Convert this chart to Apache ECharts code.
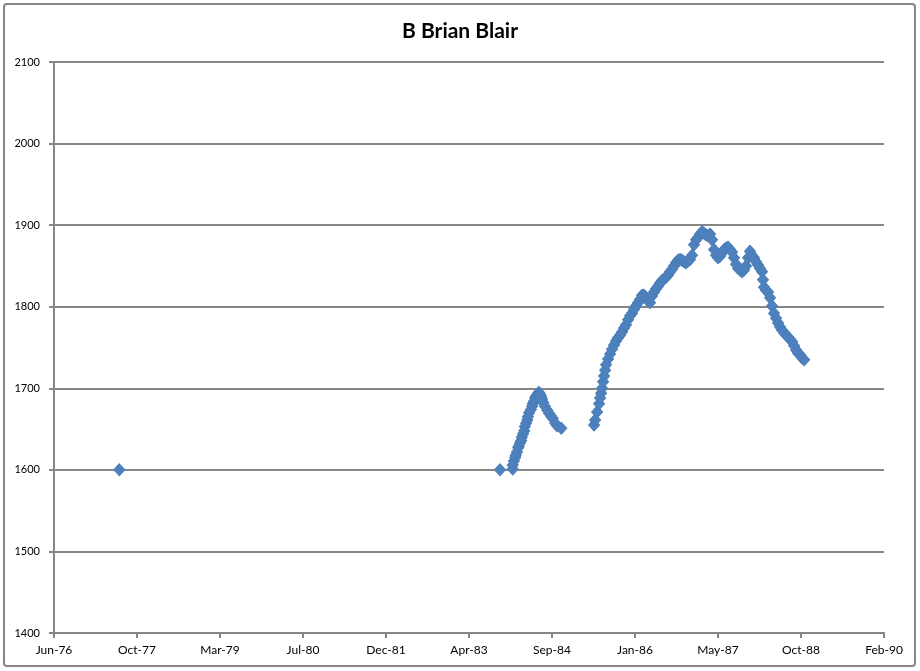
<!DOCTYPE html>
<html>
<head>
<meta charset="utf-8">
<script src="https://cdn.jsdelivr.net/npm/echarts@6/dist/echarts.min.js"></script>
<style>html,body{margin:0;padding:0;background:#fff;}#c{width:920px;height:671px;}</style>
</head>
<body>
<div id="c"></div>
<script>
// Dates as decimal years, ratings as values
const dates = [
  1977.53, 1983.81,
  1984.02, 1984.02, 1984.04, 1984.06, 1984.07, 1984.09, 1984.11, 1984.12, 1984.14, 1984.16,
  1984.17, 1984.19, 1984.21, 1984.22, 1984.24, 1984.26, 1984.27, 1984.29, 1984.32, 1984.34,
  1984.35, 1984.37, 1984.39, 1984.40, 1984.42, 1984.44, 1984.45, 1984.47, 1984.49, 1984.50,
  1984.52, 1984.55, 1984.59, 1984.62, 1984.65, 1984.68, 1984.72, 1984.75, 1984.82,
  1985.360, 1985.377, 1985.410, 1985.443, 1985.459, 1985.476, 1985.492, 1985.509, 1985.525, 1985.542,
  1985.558, 1985.591, 1985.624, 1985.657, 1985.690, 1985.723, 1985.756, 1985.789, 1985.822, 1985.855,
  1985.888, 1985.921, 1985.954, 1985.987, 1986.020, 1986.053, 1986.086, 1986.119, 1986.152, 1986.185,
  1986.218, 1986.251, 1986.284, 1986.317, 1986.350, 1986.383, 1986.416, 1986.449, 1986.482, 1986.515,
  1986.548, 1986.581, 1986.614, 1986.647, 1986.680, 1986.713, 1986.746, 1986.779, 1986.812, 1986.845,
  1986.878, 1986.911, 1986.944, 1986.977, 1987.010, 1987.043, 1987.076, 1987.109, 1987.142, 1987.175,
  1987.208, 1987.241, 1987.274, 1987.307, 1987.340, 1987.373, 1987.406, 1987.439, 1987.472, 1987.505,
  1987.538, 1987.571, 1987.604, 1987.637, 1987.670, 1987.703, 1987.736, 1987.769, 1987.802, 1987.835,
  1987.868, 1987.901, 1987.934, 1987.967, 1988.000, 1988.033, 1988.066, 1988.099, 1988.132, 1988.148,
  1988.165, 1988.198, 1988.231, 1988.264, 1988.297, 1988.330, 1988.363, 1988.396, 1988.429, 1988.462,
  1988.495, 1988.528, 1988.561, 1988.594, 1988.627, 1988.660, 1988.693, 1988.726, 1988.759, 1988.792,
  1988.825
];
const ratings = [
  1600, 1600,
  1601, 1606, 1611, 1615, 1618, 1622, 1627, 1629, 1633, 1636,
  1640, 1644, 1648, 1653, 1657, 1661, 1665, 1670, 1674, 1678,
  1681, 1684, 1688, 1690, 1692, 1694, 1695, 1693, 1690, 1687,
  1683, 1678, 1673, 1669, 1666, 1663, 1657, 1654, 1651,
  1655, 1661, 1671, 1681, 1688, 1694, 1700, 1708, 1715, 1722,
  1729, 1736, 1742, 1748, 1753, 1758, 1762, 1765, 1769, 1774,
  1778, 1784, 1789, 1792, 1797, 1801, 1805, 1809, 1814, 1814,
  1811, 1807, 1805, 1813, 1818, 1822, 1825, 1829, 1832, 1834,
  1836, 1839, 1843, 1846, 1850, 1854, 1857, 1858, 1857, 1855,
  1854, 1856, 1858, 1863, 1876, 1882, 1885, 1889, 1892, 1890,
  1888, 1887, 1889, 1882, 1870, 1863, 1860, 1862, 1866, 1870,
  1872, 1873, 1870, 1867, 1860, 1852, 1847, 1845, 1843, 1845,
  1850, 1860, 1868, 1863, 1860, 1855, 1851, 1847, 1843, 1833,
  1824, 1820, 1818, 1811, 1801, 1792, 1786, 1780, 1775, 1771,
  1768, 1765, 1763, 1760, 1757, 1752, 1747, 1743, 1741, 1737,
  1735
];
const title = 'B Brian Blair';
const yTicks = { min: 1400, max: 2100, step: 100 };
const xAxisDays = { min: 0, max: 5000, step: 500 }; // days since axis start (15 Jun 1976)
const monthNames = ['Jan','Feb','Mar','Apr','May','Jun','Jul','Aug','Sep','Oct','Nov','Dec'];

const DAY = 86400000;
const base = Date.UTC(1976, 5, 15);
function yearToDays(y) {
  const Y = Math.floor(y);
  const s = Date.UTC(Y, 0, 1), e = Date.UTC(Y + 1, 0, 1);
  return (s + (y - Y) * (e - s) - base) / DAY;
}
const data = dates.map((d, i) => [yearToDays(d), ratings[i]]);

const chart = echarts.init(document.getElementById('c'));
const grey = '#868686';
const font = 'Lato, "Open Sans", sans-serif';
chart.setOption({
  animation: false,
  backgroundColor: '#fff',
  title: {
    text: title, left: 'center', top: 16,
    textStyle: { fontFamily: font, fontWeight: 'bold', fontSize: 21, color: '#000' }
  },
  graphic: [{
    type: 'rect', shape: { x: 4, y: 4, width: 911, height: 662, r: 3 },
    style: { fill: 'none', stroke: grey, lineWidth: 2 }, silent: true, z: -1
  }],
  grid: { left: 54, right: 36, top: 62, bottom: 38, containLabel: false },
  xAxis: {
    type: 'value', min: xAxisDays.min, max: xAxisDays.max, interval: xAxisDays.step,
    axisLine: { show: true, lineStyle: { color: grey, width: 2 } },
    axisTick: { show: true, inside: false, length: 5, lineStyle: { color: grey, width: 2 } },
    splitLine: { show: false },
    axisLabel: {
      margin: 11, fontFamily: font, fontSize: 12, color: '#000',
      formatter: function (v) {
        const d = new Date(base + v * DAY);
        return monthNames[d.getUTCMonth()] + '-' + String(d.getUTCFullYear()).slice(2);
      }
    }
  },
  yAxis: {
    type: 'value', min: yTicks.min, max: yTicks.max, interval: yTicks.step,
    axisLine: { show: true, lineStyle: { color: grey, width: 2 } },
    axisTick: { show: true, inside: false, length: 5, lineStyle: { color: grey, width: 2 } },
    splitLine: { show: true, lineStyle: { color: grey, width: 2 } },
    axisLabel: { margin: 14, fontFamily: font, fontSize: 11, color: '#000',
      formatter: function (v) { return String(v); } }
  },
  series: [{
    type: 'scatter', data: data, symbol: 'diamond', symbolSize: [11, 12],
    itemStyle: { color: '#4F81BD', borderColor: '#4A7EBB', borderWidth: 1, opacity: 1 }
  }]
});
</script>
</body>
</html>
